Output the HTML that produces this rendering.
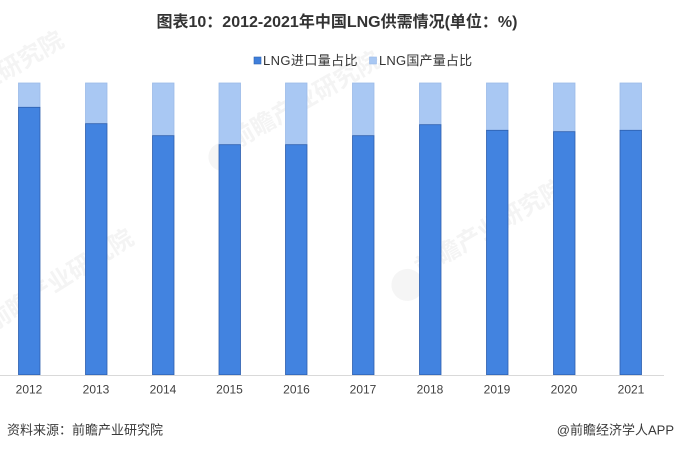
<!DOCTYPE html>
<html>
<head>
<meta charset="utf-8">
<style>
  html, body { margin: 0; padding: 0; background: #ffffff; }
  body { width: 674px; height: 450px; overflow: hidden; position: relative; }
  svg { display: block; }
  .t { font-family: "Liberation Sans", "Noto Sans CJK SC", sans-serif; }
</style>
</head>
<body>
<svg width="674" height="450" viewBox="0 0 674 450" xmlns="http://www.w3.org/2000/svg">
  <rect x="0" y="0" width="674" height="450" fill="#ffffff"/>

  <!-- faint watermarks -->
  <g fill="#f4f4f4" class="t" font-weight="bold">
    <g transform="translate(305,100) rotate(-30)">
      <circle cx="-100" cy="8" r="14" fill="#f5f5f5"/>
      <text x="0" y="8" font-size="24" text-anchor="middle" class="t">前瞻产业研究院</text>
    </g>
    <g transform="translate(490,228) rotate(-30)">
      <circle cx="-100" cy="8" r="16" fill="#f5f5f5"/>
      <text x="0" y="8" font-size="24" text-anchor="middle" class="t">前瞻产业研究院</text>
    </g>
    <g transform="translate(60,280) rotate(-32)">
      <text x="0" y="8" font-size="24" text-anchor="middle" class="t">前瞻产业研究院</text>
    </g>
    <g transform="translate(20,62) rotate(-30)">
      <text x="0" y="8" font-size="24" text-anchor="middle" class="t">业研究院</text>
    </g>
  </g>

  <!-- title -->
  <text x="337" y="27" text-anchor="middle" font-size="16" font-weight="bold" fill="#333333" class="t">图表10：2012-2021年中国LNG供需情况(单位：%)</text>

  <!-- legend -->
  <rect x="254" y="57" width="7" height="7" fill="#3f7fdb" stroke="#2f62b0" stroke-width="0.6"/>
  <text x="263" y="65" font-size="13" fill="#333333" class="t" letter-spacing="0.4">LNG进口量占比</text>
  <rect x="369.5" y="57" width="7" height="7" fill="#a9c8f3" stroke="#98b8e6" stroke-width="0.6"/>
  <text x="379" y="65" font-size="13" fill="#333333" class="t" letter-spacing="0.2">LNG国产量占比</text>

  <!-- bars -->
  <g stroke-width="0.8">
    <g fill="#a9c8f3" stroke="#9bbbe8">
      <rect x="18.5" y="83" width="21.5" height="24.3"/>
      <rect x="85.5" y="83" width="21.5" height="40.7"/>
      <rect x="152.5" y="83" width="21.5" height="52.7"/>
      <rect x="219" y="83" width="21.5" height="61.7"/>
      <rect x="285.5" y="83" width="21.5" height="61.7"/>
      <rect x="352.5" y="83" width="21.5" height="52.7"/>
      <rect x="419.5" y="83" width="21.5" height="41.7"/>
      <rect x="486.5" y="83" width="21.5" height="47.3"/>
      <rect x="553.5" y="83" width="21.5" height="48.7"/>
      <rect x="620" y="83" width="21.5" height="47.3"/>
    </g>
    <g fill="#4283e0" stroke="#2d5fae">
      <rect x="18.5" y="107.3" width="21.5" height="267.5"/>
      <rect x="85.5" y="123.7" width="21.5" height="251.1"/>
      <rect x="152.5" y="135.7" width="21.5" height="239.1"/>
      <rect x="219" y="144.7" width="21.5" height="230.1"/>
      <rect x="285.5" y="144.7" width="21.5" height="230.1"/>
      <rect x="352.5" y="135.7" width="21.5" height="239.1"/>
      <rect x="419.5" y="124.7" width="21.5" height="250.1"/>
      <rect x="486.5" y="130.3" width="21.5" height="244.5"/>
      <rect x="553.5" y="131.7" width="21.5" height="243.1"/>
      <rect x="620" y="130.3" width="21.5" height="244.5"/>
    </g>
  </g>

  <!-- axis line -->
  <line x1="0" y1="375.5" x2="664" y2="375.5" stroke="#d9d9d9" stroke-width="1"/>

  <!-- x labels -->
  <g font-size="12" fill="#404040" text-anchor="middle" class="t">
    <text x="29" y="393.5">2012</text>
    <text x="96" y="393.5">2013</text>
    <text x="163" y="393.5">2014</text>
    <text x="229.5" y="393.5">2015</text>
    <text x="296.5" y="393.5">2016</text>
    <text x="363" y="393.5">2017</text>
    <text x="430" y="393.5">2018</text>
    <text x="497" y="393.5">2019</text>
    <text x="564" y="393.5">2020</text>
    <text x="631" y="393.5">2021</text>
  </g>

  <!-- footer -->
  <text x="7" y="434.5" font-size="13" fill="#3a3a3a" class="t">资料来源：前瞻产业研究院</text>
  <text x="674" y="434.5" font-size="13" fill="#3a3a3a" text-anchor="end" class="t">@前瞻经济学人APP</text>
</svg>
</body>
</html>
